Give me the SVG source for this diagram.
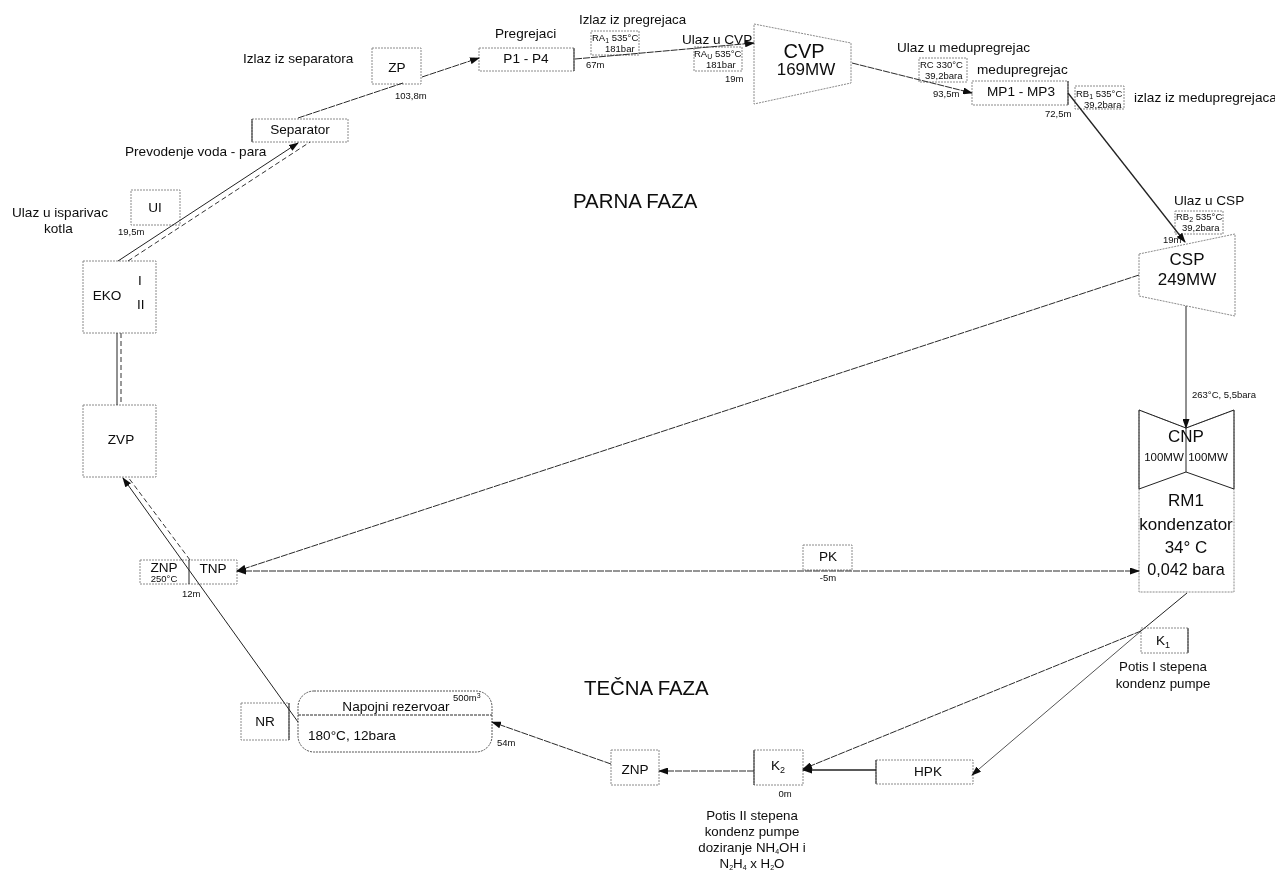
<svg xmlns="http://www.w3.org/2000/svg" width="1275" height="870" viewBox="0 0 1275 870">
<defs>
<marker id="ah" markerWidth="10" markerHeight="7" refX="9" refY="3.5" orient="auto-start-reverse" markerUnits="userSpaceOnUse"><path d="M0 0L10 3.5L0 7Z" fill="#111"/></marker>
<filter id="scan" x="0" y="0" width="100%" height="100%"><feGaussianBlur stdDeviation="0.4"/></filter>
</defs>
<style>
text{font-family:"Liberation Sans",Arial,sans-serif;fill:#0c0c0c;font-size:13.3px}
.b{fill:#fff;stroke:#8a8a8a;stroke-width:1;stroke-dasharray:2 1}
.c{fill:none;stroke:#2a2a2a;stroke-width:1;stroke-dasharray:7 1}
.s{fill:none;stroke:#222;stroke-width:1}
.e{fill:none;stroke:#444;stroke-width:1.2}
.d{fill:none;stroke:#333;stroke-width:1;stroke-dasharray:5 3}
.m{text-anchor:middle}
.l{font-size:13.6px}
.t{font-size:9.5px}
.h{font-size:20.4px}
.big{font-size:17px}
.cv{font-size:20px}
.mw{font-size:11.5px}
.st{font-size:7px}
</style>
<rect width="1275" height="870" fill="#fff"/>
<g filter="url(#scan)">
<g id="zp"><rect class="b" x="372" y="48" width="49" height="36"/><text class="l m" x="397" y="72">ZP</text></g>
<g id="p14"><rect class="b" x="479" y="48" width="95" height="23"/><path class="e" d="M574 48V71"/><text class="l m" x="526" y="63">P1 - P4</text></g>
<g id="ra1"><rect class="b" x="591" y="31" width="48" height="24"/><text class="t" x="592" y="41">RA<tspan class="st" dy="2">1</tspan><tspan dy="-2"> 535°C</tspan></text><text class="t" x="605" y="52">181bar</text></g>
<g id="ra2"><rect class="b" x="694" y="47" width="48" height="24"/><text class="t" x="694" y="57">RA<tspan class="st" dy="2">U</tspan><tspan dy="-2"> 535°C</tspan></text><text class="t" x="706" y="68">181bar</text></g>
<g id="cvp"><path class="b" d="M754 24L851 43V83L754 104Z"/><text class="cv m" x="804" y="58">CVP</text><text class="big m" x="806" y="75">169MW</text></g>
<g id="rc"><rect class="b" x="919" y="58" width="48" height="24"/><text class="t" x="920" y="68">RC 330°C</text><text class="t" x="925" y="79">39,2bara</text></g>
<g id="mp"><rect class="b" x="972" y="81" width="96" height="24"/><path class="e" d="M1068 81V105"/><text class="l m" x="1021" y="96">MP1 - MP3</text></g>
<g id="rb1"><rect class="b" x="1075" y="86" width="49" height="23"/><text class="t" x="1076" y="97">RB<tspan class="st" dy="2">1</tspan><tspan dy="-2"> 535°C</tspan></text><text class="t" x="1084" y="108">39,2bara</text></g>
<g id="rb2"><rect class="b" x="1175" y="211" width="48" height="23"/><text class="t" x="1176" y="220">RB<tspan class="st" dy="2">2</tspan><tspan dy="-2"> 535°C</tspan></text><text class="t" x="1182" y="231">39,2bara</text></g>
<g id="csp"><path class="b" d="M1139 254L1235 234V316L1139 296Z"/><text class="big m" x="1187" y="265">CSP</text><text class="big m" x="1187" y="285">249MW</text></g>
<g id="cnp-rm1"><path class="b" d="M1139 410L1186 428L1234 410V592H1139Z"/><path class="s" d="M1139 410L1186 428L1234 410M1139 489L1186 472L1234 489M1139 410V489M1234 410V489M1186 428V472"/><text class="big m" x="1186" y="442">CNP</text><text class="mw m" x="1164" y="461">100MW</text><text class="mw m" x="1208" y="461">100MW</text><text class="big m" x="1186" y="506">RM1</text><text class="big m" x="1186" y="530">kondenzator</text><text class="big m" x="1186" y="553">34° C</text><text class="m" style="font-size:16.2px" x="1186" y="575">0,042 bara</text></g>
<g id="k1"><rect class="b" x="1141" y="628" width="47" height="25"/><path class="e" d="M1188 628V653"/><text class="l m" x="1163" y="645">K<tspan class="st" style="font-size:9px" dy="3">1</tspan></text></g>
<g id="pk"><rect class="b" x="803" y="545" width="49" height="25"/><text class="l m" x="828" y="561">PK</text></g>
<g id="hpk"><rect class="b" x="876" y="760" width="97" height="24"/><path class="e" d="M876 760V784"/><text class="l m" x="928" y="776">HPK</text></g>
<g id="k2"><rect class="b" x="754" y="750" width="49" height="35"/><path class="e" d="M754 750V785"/><text class="l m" x="778" y="770">K<tspan class="st" style="font-size:9px" dy="3">2</tspan></text></g>
<g id="znp2"><rect class="b" x="611" y="750" width="48" height="35"/><text class="l m" x="635" y="774">ZNP</text></g>
<g id="napojni"><rect class="b" x="298" y="691" width="194" height="61" rx="16" style="stroke:#555"/><path class="c" style="stroke-dasharray:3 1" d="M298 715H492"/><text class="l m" x="396" y="711">Napojni rezervoar</text><text class="t" x="453" y="701">500m<tspan class="st" dy="-3">3</tspan></text><text class="l" x="308" y="740">180°C, 12bara</text></g>
<g id="nr"><rect class="b" x="241" y="703" width="48" height="37"/><path class="e" d="M289 703V740"/><text class="l m" x="265" y="726">NR</text></g>
<g id="znp-tnp"><rect class="b" x="140" y="560" width="97" height="24"/><path class="s" d="M189 560V584"/><text class="l m" x="164" y="572">ZNP</text><text class="t m" x="164" y="582">250°C</text><text class="l m" x="213" y="573">TNP</text></g>
<g id="zvp"><rect class="b" x="83" y="405" width="73" height="72"/><text class="l m" x="121" y="444">ZVP</text></g>
<g id="eko"><rect class="b" x="83" y="261" width="73" height="72"/><text class="l m" x="107" y="300">EKO</text><text class="l" x="138" y="285">I</text><text class="l" x="137" y="309">II</text></g>
<g id="ui"><rect class="b" x="131" y="190" width="49" height="35"/><text class="l m" x="155" y="212">UI</text></g>
<g id="sep"><rect class="b" x="252" y="119" width="96" height="23"/><path class="e" d="M252 119V142"/><text class="l m" x="300" y="134">Separator</text></g>
<g id="connectors">
<path class="c" d="M298 118L403 83"/>
<path class="c" marker-end="url(#ah)" d="M422 77L479 58"/>
<path class="c" marker-end="url(#ah)" d="M575 59L754 43"/>
<path class="c" marker-end="url(#ah)" d="M852 63L972 93"/>
<path class="s" style="stroke-width:1.3" marker-end="url(#ah)" d="M1068 93L1185 242"/>
<path class="s" marker-end="url(#ah)" d="M1186 306V428"/>
<path class="c" marker-end="url(#ah)" d="M1139 275L237 571"/>
<path class="c" marker-start="url(#ah)" marker-end="url(#ah)" d="M237 571H1139"/>
<path class="s" d="M1187 593L1141 631"/>
<path class="s" style="stroke:#555" marker-end="url(#ah)" d="M1141 631L972 775"/>
<path class="c" marker-end="url(#ah)" d="M1141 631L803 769"/>
<path class="s" style="stroke-width:1.5" marker-end="url(#ah)" d="M876 770H803"/>
<path class="c" marker-end="url(#ah)" d="M754 771H659"/>
<path class="c" marker-end="url(#ah)" d="M611 764L492 722"/>
<path class="s" marker-end="url(#ah)" d="M298 722L123 478"/>
<path class="d" d="M190 560L128 477"/>
<path class="s" marker-end="url(#ah)" d="M118 261L298 143"/>
<path class="d" d="M128 261L310 142"/>
<path class="s" d="M117 333V405"/>
<path class="d" d="M121 333V405"/>
</g>
<g id="labels">
<text class="l" x="243" y="63">Izlaz iz separatora</text>
<text class="l" x="495" y="38">Pregrejaci</text>
<text x="579" y="24">Izlaz iz pregrejaca</text>
<text class="l" x="682" y="44">Ulaz u CVP</text>
<text class="l" x="897" y="52">Ulaz u medupregrejac</text>
<text class="l" x="977" y="74">medupregrejac</text>
<text class="l" x="1134" y="102">izlaz iz medupregrejaca</text>
<text class="l" x="1174" y="205">Ulaz u CSP</text>
<text class="l" x="125" y="156">Prevodenje voda - para</text>
<text class="l" x="12" y="217">Ulaz u isparivac</text>
<text class="l" x="44" y="233">kotla</text>
<text class="h" x="573" y="208">PARNA FAZA</text>
<text class="h" x="584" y="695">TEČNA FAZA</text>
<text class="t" x="395" y="99">103,8m</text>
<text class="t" x="586" y="68">67m</text>
<text class="t" x="725" y="82">19m</text>
<text class="t" x="933" y="97">93,5m</text>
<text class="t" x="1045" y="117">72,5m</text>
<text class="t" x="1163" y="243">19m</text>
<text class="t" x="118" y="235">19,5m</text>
<text class="t" x="1192" y="398">263°C, 5,5bara</text>
<text class="t m" x="828" y="581">-5m</text>
<text class="t" x="182" y="597">12m</text>
<text class="t" x="497" y="746">54m</text>
<text class="t m" x="785" y="797">0m</text>
<text class="m" x="1163" y="671">Potis I stepena</text>
<text class="m" x="1163" y="688">kondenz pumpe</text>
<text class="m" x="752" y="820">Potis II stepena</text>
<text class="m" x="752" y="836">kondenz pumpe</text>
<text class="m" x="752" y="852">doziranje NH<tspan class="st" dy="2">4</tspan><tspan dy="-2">OH i</tspan></text>
<text class="m" x="752" y="868">N<tspan class="st" dy="2">2</tspan><tspan dy="-2">H</tspan><tspan class="st" dy="2">4</tspan><tspan dy="-2"> x H</tspan><tspan class="st" dy="2">2</tspan><tspan dy="-2">O</tspan></text>
</g>
</g>
</svg>
